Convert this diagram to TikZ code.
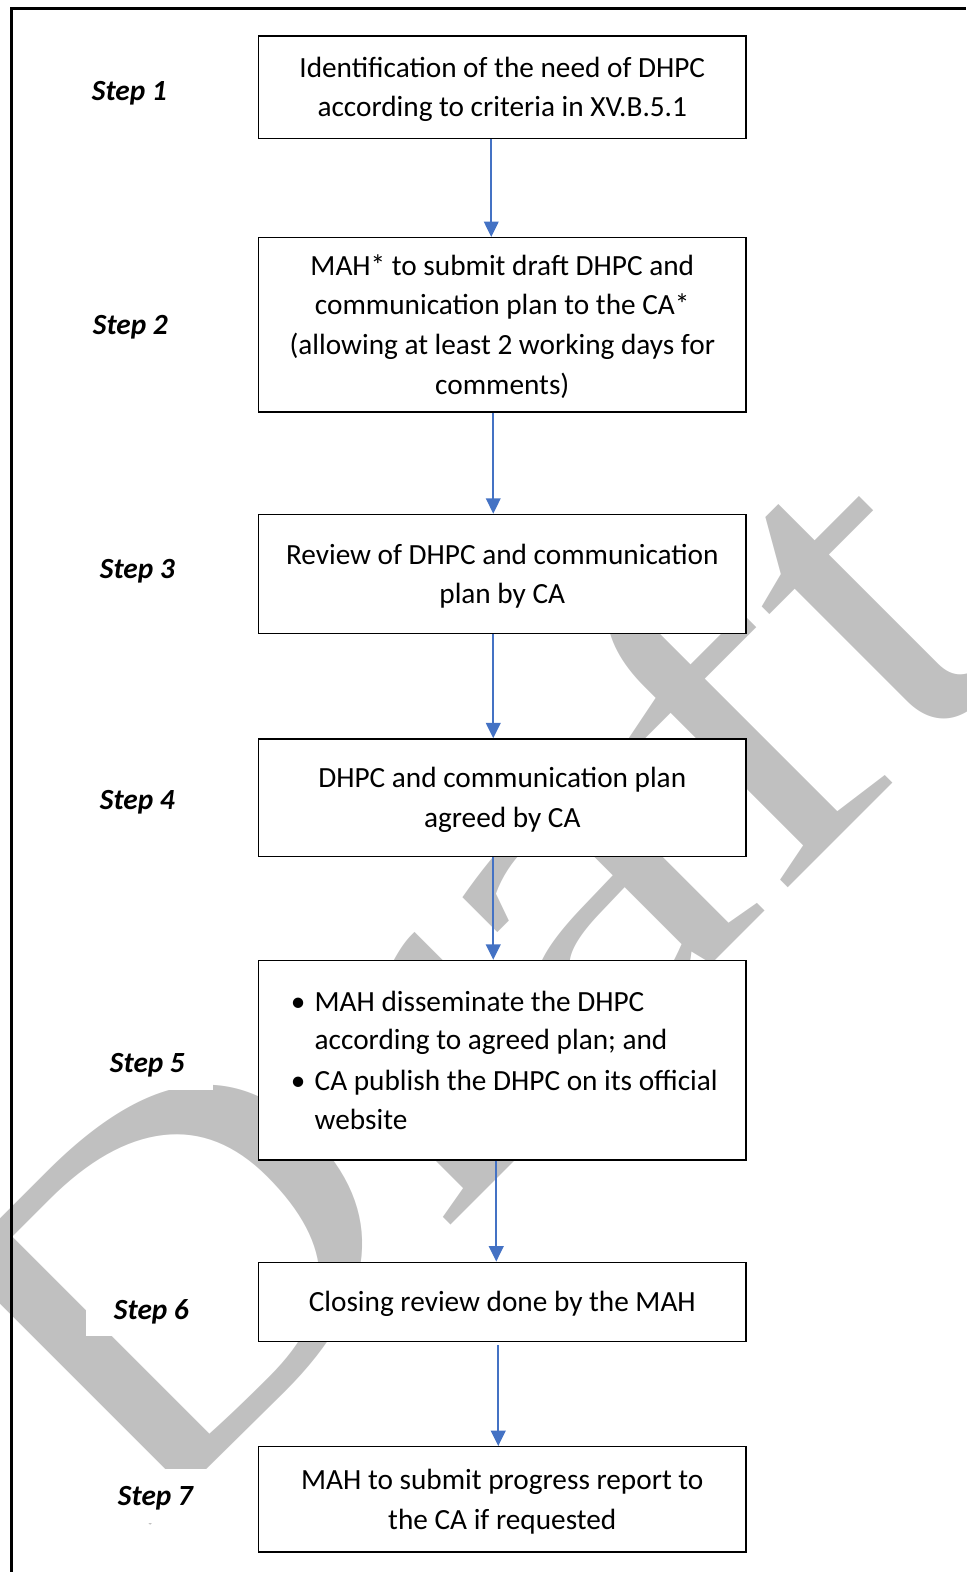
\documentclass[tikz,border=0pt]{standalone}
\usepackage{fontspec}
\setmainfont{Carlito}
\newfontfamily\wmfont{Liberation Serif}
\usetikzlibrary{arrows.meta}
\definecolor{arrowblue}{HTML}{4472C4}
\definecolor{wmgray}{HTML}{C0C0C0}
% centred lines, set a little lower than the box centre
\newcommand\boxlines[1]{\raisebox{-1.5pt}[\height][\depth]{\begin{tabular}{@{}c@{}}#1\end{tabular}}}
\newcommand\lowlabel[1]{\raisebox{-1.9pt}[\height][\depth]{#1}}

\begin{document}
\begin{tikzpicture}[x=0.75pt,y=-0.75pt,
  stepbox/.style={draw=black, line width=1pt, fill=white, minimum width=364.5pt,
    inner sep=0pt, font=\fontsize{21.9}{29.6}\selectfont},
  steplabel/.style={fill=white, minimum width=97.5pt, minimum height=40.5pt,
    inner sep=0pt, font=\fontsize{21.9}{26}\selectfont\bfseries\itshape},
  flow/.style={draw=arrowblue, line width=1.25pt,
    -{Triangle[width=11pt,length=11.5pt]}}]
\useasboundingbox (0,0) rectangle (964,1568);

% watermark behind everything
\begin{scope}
  \clip (0,0) rectangle (964,1568);
  \node[rotate=45, anchor=base west, inner sep=0pt, text=wmgray,
        font=\wmfont\fontsize{369}{369}\selectfont] (wm) at (137.7,1534)
        {\scalebox{1.21}[1]{Draft}};
\end{scope}

% page frame
\draw[line width=1.95pt] (11.3,1568) -- (11.3,8.7) -- (964,8.7);

% step labels
\node[steplabel] (s1) at (129,90)   {\lowlabel{Step 1}};
\node[steplabel] (s2) at (130,324)  {\lowlabel{Step 2}};
\node[steplabel] (s3) at (137,567)  {\lowlabel{Step 3}};
\node[steplabel] (s4) at (137,798)  {\lowlabel{Step 4}};
\node[steplabel] (s5) at (147,1060) {\lowlabel{Step 5}};
\node[steplabel] (s6) at (151,1306) {\lowlabel{Step 6}};
\node[steplabel] (s7) at (155,1492) {\lowlabel{Step 7}};

% process boxes
\node[stepbox, minimum height=76.5pt] (b1) at (501,87)
  {\boxlines{Identification of the need of DHPC\\according to criteria in XV.B.5.1}};
\node[stepbox, minimum height=130.5pt] (b2) at (501,324)
  {\boxlines{MAH* to submit draft DHPC and\\communication plan to the CA*\\(allowing at least 2 working days for\\comments)}};
\node[stepbox, minimum height=89.25pt] (b3) at (501,572.5)
  {\boxlines{Review of DHPC and communication\\plan by CA}};
\node[stepbox, minimum height=87.75pt] (b4) at (501,795.5)
  {\boxlines{DHPC and communication plan\\agreed by CA}};
\node[stepbox, minimum height=149.25pt] (b5) at (501,1057.5)
  {\hspace*{3pt}\raisebox{-2pt}[\height][\depth]{\begin{tabular}{@{}l@{\hspace{7pt}}l@{}}
   \textbullet & MAH disseminate the DHPC\\[-1.5pt]
               & according to agreed plan; and\\[1pt]
   \textbullet & CA publish the DHPC on its official\\
               & website
   \end{tabular}}};
\node[stepbox, minimum height=59.25pt] (b6) at (501,1298.5)
  {\boxlines{Closing review done by the MAH}};
\node[stepbox, minimum height=78.75pt] (b7) at (501,1495.5)
  {\boxlines{MAH to submit progress report to\\the CA if requested}};

% connectors
\draw[flow] (b1.south -| 490,0) -- (b2.north -| 490,0);
\draw[flow] (b2.south -| 492,0) -- (b3.north -| 492,0);
\draw[flow] (b3.south -| 492,0) -- (b4.north -| 492,0);
\draw[flow] (b4.south -| 492,0) -- (b5.north -| 492,0);
\draw[flow] (b5.south -| 495,0) -- (b6.north -| 495,0);
\draw[flow] ([yshift=-2.25pt]b6.south -| 497,0) -- (b7.north -| 497,0);
\end{tikzpicture}
\end{document}
